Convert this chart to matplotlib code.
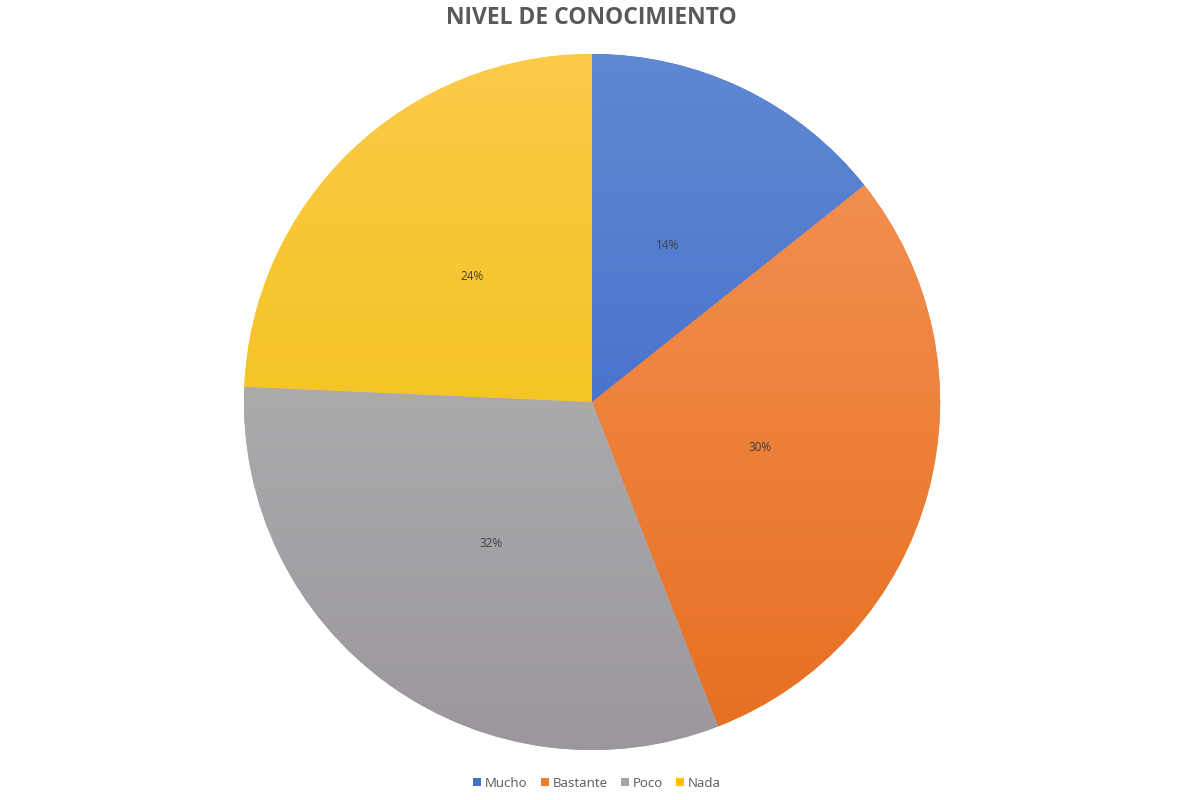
import matplotlib
matplotlib.use("Agg")
import matplotlib.pyplot as plt
import numpy as np
from matplotlib.colors import LinearSegmentedColormap
from matplotlib.patches import Patch

categories = ["Mucho", "Bastante", "Poco", "Nada"]
values = [14.3, 29.8, 31.6, 24.3]
title = "NIVEL DE CONOCIMIENTO"

base_colors = ["#4472C4", "#ED7D31", "#A5A5A5", "#FFC000"]
top_colors = ["#6189D3", "#F5975C", "#BDBDBD", "#FDCB4A"]
bottom_colors = ["#3360C6", "#E66E1E", "#9A969C", "#EDBD00"]

plt.rcParams['font.family'] = ['Open Sans', 'DejaVu Sans']

fig = plt.figure(figsize=(12, 8), dpi=100)
ax = fig.add_axes([0.1975, 0.05375, 0.5917, 0.8875])
wedges, texts, autotexts = ax.pie(
    values, colors=base_colors, startangle=90, counterclock=False,
    autopct=lambda p: f"{p:.0f}%", pctdistance=0.5,
    textprops=dict(fontsize=8.5, color="#404040"))
ax.set_aspect("equal")

grad = np.linspace(0, 1, 256).reshape(-1, 1)
for w, tc, bc in zip(wedges, top_colors, bottom_colors):
    cmap = LinearSegmentedColormap.from_list("g", [bc, tc])
    im = ax.imshow(grad, cmap=cmap, extent=[-1.05, 1.05, -1.05, 1.05],
                   origin="lower", aspect="auto", zorder=w.get_zorder() + 0.1)
    im.set_clip_path(w)
for t in autotexts:
    t.set_zorder(10)
ax.set_xlim(-1.02, 1.02)
ax.set_ylim(-1.02, 1.02)

fig.text(0.4925, 0.977, title, ha="center", va="center", fontsize=16.5,
         fontweight="bold", color="#595959")

handles = [Patch(facecolor=c, edgecolor="none") for c in base_colors]
fig.legend(handles, categories, loc="center", bbox_to_anchor=(0.4975, 0.021),
           ncol=4, frameon=False, fontsize=9.5, handlelength=0.6,
           handleheight=0.6, handletextpad=0.3, columnspacing=1.0,
           labelcolor="#595959")

fig.savefig("out.png", dpi=100, facecolor="white")
